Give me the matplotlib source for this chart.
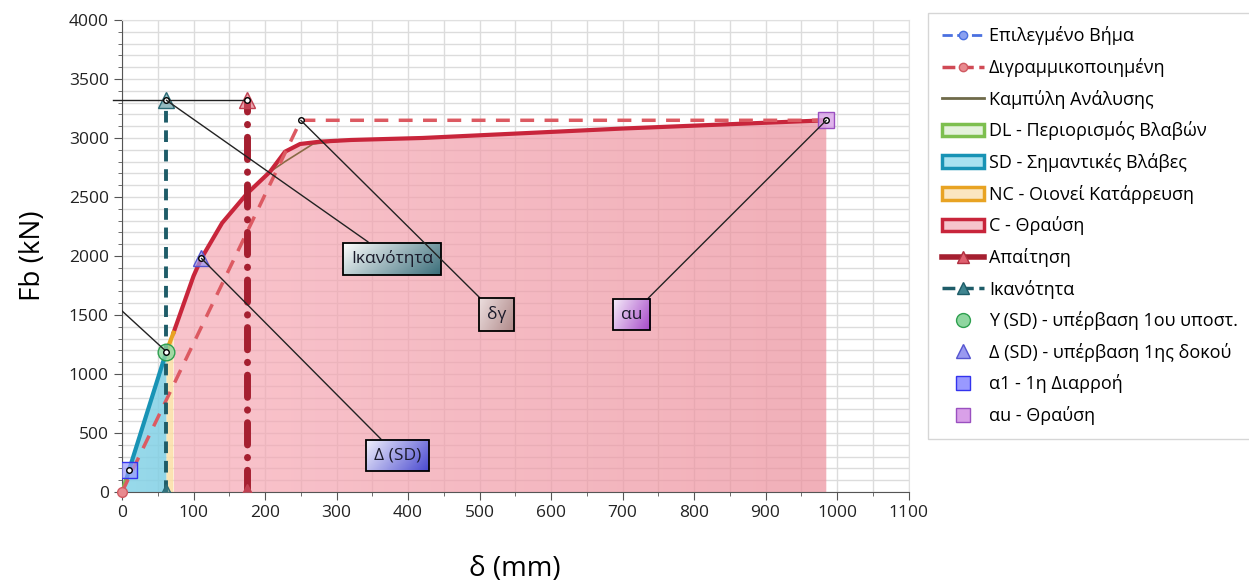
import numpy as np
import matplotlib
matplotlib.use("Agg")
import matplotlib.pyplot as plt
from matplotlib.lines import Line2D
from matplotlib.patches import Patch
from matplotlib.colors import LinearSegmentedColormap
from matplotlib.ticker import MultipleLocator

plt.rcParams['font.family'] = ['Open Sans', 'DejaVu Sans']

# pushover curve (delta in mm, Fb in kN)
curve_x = [0, 5.6, 10, 62, 72, 100, 111, 140, 175, 207, 228, 249, 277, 320, 420, 700, 985]
curve_y = [0, 100, 190, 1190, 1350, 1830, 1980, 2280, 2530, 2714, 2884, 2949, 2969, 2983, 3000, 3080, 3150]
# analysis curve (thin) differs slightly near the knee
analysis_x = [0, 10, 62, 72, 100, 111, 140, 175, 207, 228, 267, 320, 420, 700, 985]
analysis_y = [0, 190, 1190, 1350, 1830, 1980, 2280, 2530, 2714, 2800, 2949, 2983, 3000, 3080, 3150]
# bilinear idealisation
bilin_x = [0, 250, 985]
bilin_y = [0, 3150, 3150]
# limit state ranges as index slices in curve arrays
dl_idx = (0, 2)
sd_idx = (1, 4)
nc_idx = (3, 5)
c_idx = (4, 17)
# capacity / demand
capacity_d = 62
demand_d = 175
top_f = 3320
# points
y_pt = (62, 1190)
delta_pt = (111, 1980)
a1_pt = (10, 190)
au_pt = (985, 3150)
dy_pt = (250, 3150)

fig = plt.figure(figsize=(12.49, 5.84), dpi=100)
ax = fig.add_axes([0.0977, 0.1575, 0.6297, 0.8083])
ax.set_xlim(0, 1100)
ax.set_ylim(0, 4000)

def seg(idx):
    a, b = idx
    return np.array(curve_x[a:b]), np.array(curve_y[a:b])

def grad_fill(idx, c1, c2, alpha):
    x, y = seg(idx)
    poly = ax.fill_between(x, 0, y, color='none', lw=0)
    cmap = LinearSegmentedColormap.from_list('g', [c1, c2])
    g = np.linspace(0, 1, 256).reshape(1, -1)
    im = ax.imshow(g, cmap=cmap, aspect='auto', extent=[x.min(), x.max(), 0, y.max()],
                   alpha=alpha, zorder=1, interpolation='bilinear')
    im.set_clip_path(poly.get_paths()[0], transform=ax.transData)

grad_fill(c_idx, '#f7aab6', '#ec8e9b', 0.7)
grad_fill(nc_idx, '#fce3ad', '#fcdca0', 0.85)
grad_fill(sd_idx, '#86d3e8', '#80cfe4', 0.85)
grad_fill(dl_idx, '#b7e09a', '#b7e09a', 0.85)

# limit state lines
x, y = seg(c_idx)
ax.plot(x, y, color='#c8253b', lw=3, zorder=4, solid_joinstyle='round')
x, y = seg(nc_idx)
ax.plot(x, y, color='#e8a323', lw=3, zorder=4)
x, y = seg(sd_idx)
ax.plot(x, y, color='#1893b5', lw=3, zorder=4)
x, y = seg(dl_idx)
ax.plot(x, y, color='#7dbf4f', lw=3, zorder=4)
ax.plot(analysis_x, analysis_y, color='#8a6a45', lw=1.2, zorder=3)

# bilinear
ax.plot(bilin_x, bilin_y, color='#dc5a62', lw=2.5, ls=(0, (4, 3)), zorder=5)
ax.plot([0], [0], 'o', ms=7, mfc='#e88a8f', mec='#d05a62', zorder=6, clip_on=False)

# capacity and demand
ax.plot([capacity_d, capacity_d], [0, top_f], color='#1e5c68', lw=2.8, ls=(0, (3, 2)), zorder=6)
ax.plot([capacity_d, capacity_d], [0, top_f], '^', ms=11, mfc=(0.25, 0.52, 0.56, 0.55), mec='#2a6a75', zorder=7)
ax.plot([demand_d, demand_d], [0, top_f], color='#a51f30', lw=5, ls=(0, (3.2, 1.8, 0.05, 1.8)),
        dash_capstyle='round', zorder=6)
ax.plot([demand_d, demand_d], [0, top_f], '^', ms=11, mfc=(0.85, 0.35, 0.42, 0.55), mec='#c04050', zorder=7)

# markers
ax.plot(*y_pt, 'o', ms=12, mfc=(0.55, 0.84, 0.62, 0.8), mec='#2fa050', zorder=8)
ax.plot(*delta_pt, '^', ms=12, mfc=(0.6, 0.6, 0.95, 0.7), mec='#5555d0', zorder=8)
ax.plot(*a1_pt, 's', ms=12, mfc=(0.6, 0.6, 1.0, 0.7), mec='#3333ee', zorder=8)
ax.plot(*au_pt, 's', ms=12, mfc=(0.85, 0.63, 0.91, 0.8), mec='#9a50c0', zorder=8)
for p in [y_pt, delta_pt, a1_pt, au_pt, (capacity_d, top_f), (demand_d, top_f), dy_pt]:
    ax.plot(*p, 'o', ms=4, mfc='white', mec='black', mew=1, zorder=10)

# annotation leaders and gradient boxes
boxes = []
def label(txt, pt, pos, c1, c2):
    t = ax.annotate(txt, xy=pt, xytext=pos, fontsize=12.5, ha='center', va='center', zorder=12,
                    color='#1a1a2a',
                    bbox=dict(boxstyle='square,pad=0.45', fc='none', ec='black', lw=1.3),
                    arrowprops=dict(arrowstyle='-', color='#222222', lw=1, shrinkA=0, shrinkB=0))
    boxes.append((t, c1, c2))

label('Ικανότητα', (capacity_d, top_f), (378, 1975), '#ffffff', '#3b6e7a')
label('δγ', dy_pt, (524, 1504), '#ecdede', '#b08a8a')
label('αu', au_pt, (713, 1504), '#f6eefa', '#a648c8')
label('Δ (SD)', delta_pt, (385, 309), '#f2f2fc', '#4a4ad0')
ax.plot([-12, demand_d], [top_f, top_f], color='#222222', lw=1, zorder=9, clip_on=False)
ax.plot([y_pt[0], -10], [y_pt[1], 1590], color='#222222', lw=1, zorder=9)

# axes
ax.xaxis.set_major_locator(MultipleLocator(100))
ax.xaxis.set_minor_locator(MultipleLocator(50))
ax.yaxis.set_major_locator(MultipleLocator(500))
ax.yaxis.set_minor_locator(MultipleLocator(100))
ax.grid(True, which='both', color='#dcdcdc', lw=1, zorder=0)
ax.set_axisbelow(True)
for s in ['top', 'right']:
    ax.spines[s].set_color('#e0e0e0')
for s in ['left', 'bottom']:
    ax.spines[s].set_color('#555555')
ax.tick_params(which='major', length=6, color='#555555', labelsize=12.5, labelcolor='#222222')
ax.tick_params(which='minor', length=3, color='#555555')
ax.set_xlabel('δ (mm)', fontsize=20, labelpad=24)
ax.set_ylabel('Fb (kN)', fontsize=20, labelpad=16)

# legend
handles = [
    Line2D([], [], color='#4a70e0', ls='--', lw=2, marker='o', ms=6, mfc='#8aa0f0', mec='#4a70e0'),
    Line2D([], [], color='#d04a55', ls='--', lw=2.5, marker='o', ms=6, mfc='#e88a8f', mec='#d05a62'),
    Line2D([], [], color='#6f6a4a', lw=2),
    Patch(fc='#e4f2dc', ec='#7dbf4f', lw=2.5),
    Patch(fc='#a8e2f0', ec='#1893b5', lw=2.5),
    Patch(fc='#fbe6c0', ec='#e8a323', lw=2.5),
    Patch(fc='#f6c4cc', ec='#c8253b', lw=2.5),
    Line2D([], [], color='#a51f30', lw=4, marker='^', ms=9, mfc='#e06070', mec='#b03040'),
    Line2D([], [], color='#1e5c68', lw=2.5, ls='--', marker='^', ms=9, mfc='#3f8590', mec='#1e5c68'),
    Line2D([], [], ls='none', marker='o', ms=10, mfc='#8fd6a0', mec='#2fa050'),
    Line2D([], [], ls='none', marker='^', ms=10, mfc='#9a9af0', mec='#5555d0'),
    Line2D([], [], ls='none', marker='s', ms=10, mfc='#9999ff', mec='#3333ee'),
    Line2D([], [], ls='none', marker='s', ms=10, mfc='#d9a0e8', mec='#9a50c0'),
]
labels = ['Επιλεγμένο Βήμα', 'Διγραμμικοποιημένη', 'Καμπύλη Ανάλυσης', 'DL - Περιορισμός Βλαβών',
          'SD - Σημαντικές Βλάβες', 'NC - Οιονεί Κατάρρευση', 'C - Θραύση', 'Απαίτηση', 'Ικανότητα',
          'Y (SD) - υπέρβαση 1ου υποστ.', 'Δ (SD) - υπέρβαση 1ης δοκού', 'α1 - 1η Διαρροή', 'αu - Θραύση']
leg = fig.legend(handles, labels, loc='upper left', bbox_to_anchor=(0.743, 0.978), fontsize=13,
                 frameon=True, fancybox=False, edgecolor='#cccccc', handlelength=2.35,
                 labelspacing=0.7, borderpad=0.75, handletextpad=0.28, borderaxespad=0)
leg.get_frame().set_linewidth(1)

# gradient fills behind annotation boxes
fig.canvas.draw()
inv = ax.transData.inverted()
for t, c1, c2 in boxes:
    bb = t.get_bbox_patch().get_window_extent()
    (x0, y0), (x1, y1) = inv.transform([[bb.x0, bb.y0], [bb.x1, bb.y1]])
    cmap = LinearSegmentedColormap.from_list('b', [c1, c2])
    gx, gy = np.meshgrid(np.linspace(0, 1, 64), np.linspace(0, 1, 32))
    g = 0.7 * gx + 0.3 * gy
    ax.imshow(g, cmap=cmap, extent=[x0, x1, y0, y1], aspect='auto', zorder=11,
              interpolation='bilinear', origin='upper')
ax.set_xlim(0, 1100)
ax.set_ylim(0, 4000)

fig.savefig('out.png', dpi=100)
